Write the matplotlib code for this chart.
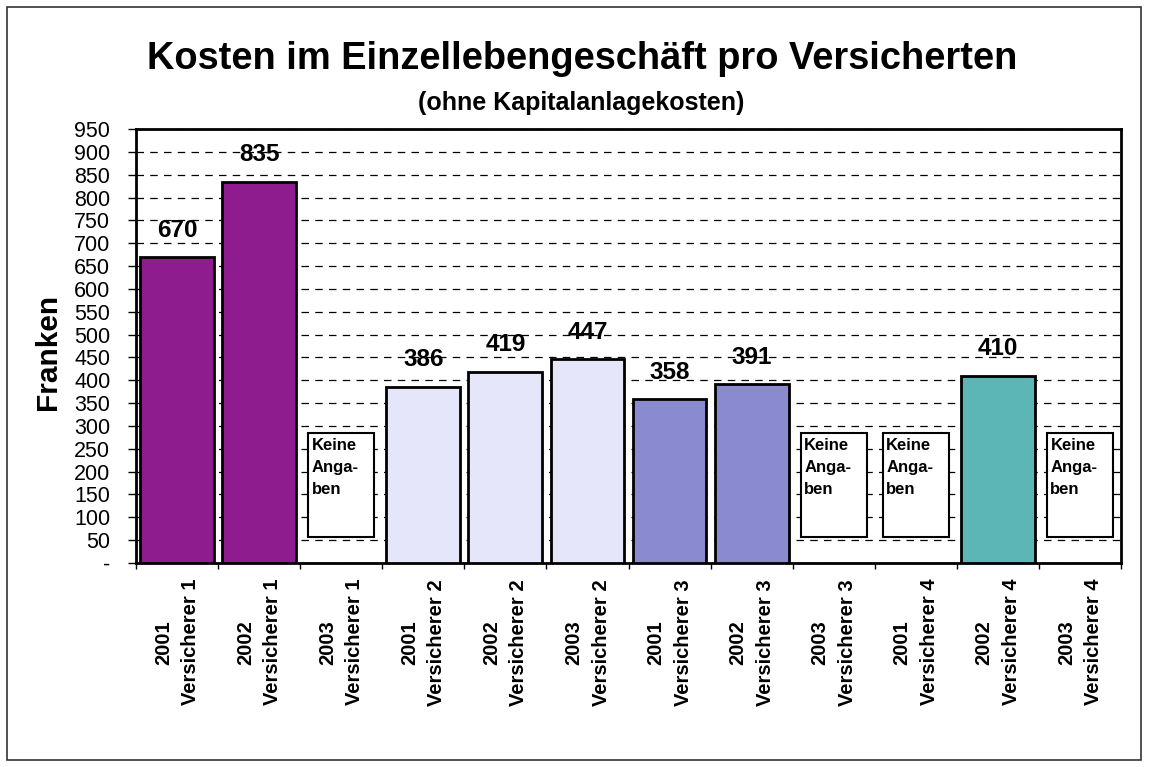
import matplotlib
matplotlib.use("Agg")
import matplotlib.pyplot as plt
from matplotlib.patches import Rectangle
import numpy as np

plt.rcParams['font.family'] = ['Liberation Sans', 'DejaVu Sans']

years = ['2001', '2002', '2003']
insurers = ['Versicherer 1', 'Versicherer 2', 'Versicherer 3', 'Versicherer 4']
# None = Keine Angaben
kosten = [670, 835, None, 386, 419, 447, 358, 391, None, None, 410, None]
farben = ['#8e1c8e', '#e6e6fa', '#8a8ad0', '#5cb6b6']
yticks = np.arange(0, 951, 50)

labels = [y + '\n' + v for v in insurers for y in years]
x = np.arange(len(labels))

fig = plt.figure(figsize=(11.49, 7.67), dpi=100)
ax = fig.add_axes([136/1149, 1-563/767, 985/1149, 434/767])

# border around whole chart
fig.patches.append(Rectangle((7/1149, 7/767), 1134/1149, 753/767, transform=fig.transFigure,
                             fill=False, edgecolor='#333333', linewidth=1.2))

ax.set_ylim(0, 950)
ax.set_xlim(-0.5, len(labels) - 0.5)
ax.set_yticks(yticks)
ax.set_yticklabels(['-' if t == 0 else str(t) for t in yticks], fontsize=15.5)
ax.yaxis.grid(True, linestyle=(0, (6, 5)), color='black', linewidth=0.9)
ax.set_axisbelow(True)

for i, val in enumerate(kosten):
    col = farben[i // 3]
    if val is None:
        ax.add_patch(Rectangle((i - 0.4, 57), 0.8, 228, facecolor='white', edgecolor='black',
                               linewidth=1.5, zorder=3))
        ax.text(i - 0.36, 274, 'Keine\nAnga-\nben', fontsize=12, fontweight='bold',
                ha='left', va='top', linespacing=1.6, zorder=4)
    else:
        ax.bar(i, val, width=0.9, color=col, edgecolor='black', linewidth=2, zorder=3)
        ax.annotate(str(val), (i, val), xytext=(0, 11), textcoords='offset points',
                    ha='center', va='bottom', fontsize=17.5, fontweight='bold')

ax.set_xticks(x)
ax.set_xticklabels(labels, rotation=90, fontsize=14.5, fontweight='bold',
                   multialignment='center', linespacing=1.55)
ax.set_xticks(np.arange(-0.5, len(labels), 1), minor=True)
ax.tick_params(axis='x', which='major', length=0, pad=11.5)
ax.tick_params(axis='x', which='minor', length=4.5, width=1)
ax.tick_params(axis='y', length=6, width=1, pad=12.5)
for s in ax.spines.values():
    s.set_linewidth(2)

fig.text(582/1149, 1-69/767, 'Kosten im Einzellebengeschäft pro Versicherten',
         ha='center', va='baseline', fontsize=27.4, fontweight='bold')
fig.text(581/1149, 1-110/767, '(ohne Kapitalanlagekosten)',
         ha='center', va='baseline', fontsize=18, fontweight='bold')
fig.text(48/1149, 1-352/767, 'Franken', rotation=90, ha='center', va='center',
         fontsize=21.5, fontweight='bold')

plt.savefig('out.png', dpi=100)
